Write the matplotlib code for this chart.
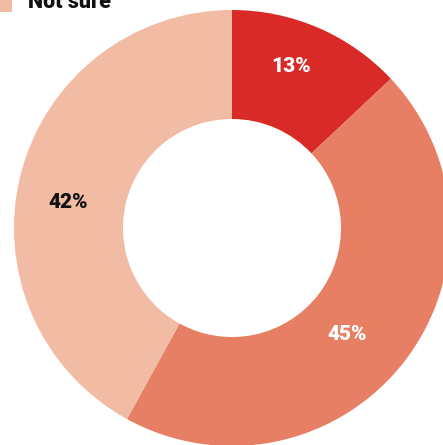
import matplotlib
matplotlib.use("Agg")
import matplotlib.pyplot as plt
import numpy as np
from matplotlib.patches import Rectangle

categories = ["Yes", "No", "Not sure"]
values = [13, 45, 42]
colors = ["#D92A27", "#E77F64", "#F2BBA3"]
label_colors = ["white", "white", "#111111"]

W, H = 443, 445
fig = plt.figure(figsize=(W / 100, H / 100), dpi=100)
cx, cy, r, r_in = 232, 228, 218, 109
ax = fig.add_axes([(cx - r) / W, (H - cy - r) / H, 2 * r / W, 2 * r / H])
ax.axis("off")

wedges, texts = ax.pie(
    values, colors=colors, startangle=90, counterclock=False,
    radius=1.0, wedgeprops=dict(width=1 - r_in / r, linewidth=0),
)

# label placement style: radial distance and small angular nudge per slice
label_dist = [0.79, 0.72, 0.76]
label_nudge_deg = [3.3, -4.9, 5.7]
for w, v, c, d, n in zip(wedges, values, label_colors, label_dist, label_nudge_deg):
    ang = np.deg2rad((w.theta1 + w.theta2) / 2 + n)
    ax.text(d * np.cos(ang), d * np.sin(ang), f"{v}%", ha="center", va="center",
            fontfamily="Roboto", fontweight="black", fontsize=15, color=c)
ax.set_xlim(-1, 1)
ax.set_ylim(-1, 1)

# partially visible legend entry at top
idx = categories.index("Not sure")
fig.patches.append(Rectangle((0 / W, (H - 12) / H), 12 / W, 14 / H,
                             transform=fig.transFigure, facecolor=colors[idx],
                             edgecolor="none"))
fig.text(28 / W, (H - 8) / H, categories[idx], fontfamily="Roboto",
         fontweight="black", fontsize=15.5, color="#111111",
         ha="left", va="baseline")

fig.savefig("out.png", dpi=100, facecolor="white")
